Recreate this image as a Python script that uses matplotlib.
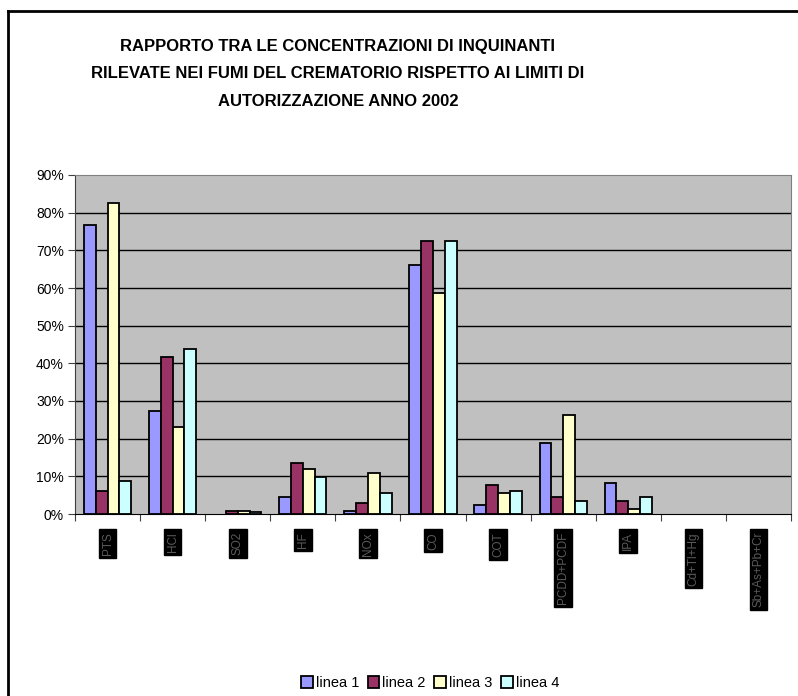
import matplotlib
matplotlib.use("Agg")
import matplotlib.pyplot as plt
import numpy as np
from matplotlib.lines import Line2D

plt.rcParams["font.family"] = ["Liberation Sans", "DejaVu Sans"]

# category labels are unreadable in the source; plausible pollutant names
categories = ["PTS", "HCl", "SO2", "HF", "NOx", "CO", "COT", "PCDD+PCDF",
              "IPA", "Cd+Tl+Hg", "Sb+As+Pb+Cr"]
series_names = ["linea 1", "linea 2", "linea 3", "linea 4"]
linea_1 = [76.7, 27.4, 0.0, 4.6, 0.9, 66.1, 2.4, 18.8, 8.3, 0.0, 0.0]
linea_2 = [6.1, 41.8, 0.9, 13.6, 3.0, 72.6, 7.7, 4.6, 3.5, 0.0, 0.0]
linea_3 = [82.6, 23.2, 0.9, 11.9, 10.9, 58.8, 5.7, 26.3, 1.4, 0.0, 0.0]
linea_4 = [8.8, 43.9, 0.4, 9.9, 5.7, 72.6, 6.1, 3.5, 4.6, 0.0, 0.0]
colors = ["#9999FF", "#993366", "#FFFFCC", "#CCFFFF"]
y_ticks = [0, 10, 20, 30, 40, 50, 60, 70, 80, 90]

W, H = 798, 696
fig = plt.figure(figsize=(W / 100, H / 100), dpi=100)

# outer chart border (top and left visible)
fig.add_artist(Line2D([8 / W, 8 / W], [0, 1 - 11 / H], color="black", lw=2,
                      transform=fig.transFigure))
fig.add_artist(Line2D([8 / W, 1], [1 - 11 / H, 1 - 11 / H], color="black", lw=2,
                      transform=fig.transFigure))

title_lines = ["RAPPORTO TRA LE CONCENTRAZIONI DI INQUINANTI",
               "RILEVATE NEI FUMI DEL CREMATORIO RISPETTO AI LIMITI DI",
               "AUTORIZZAZIONE ANNO 2002"]
for line, ypix in zip(title_lines, [46, 74, 102]):
    fig.text(338 / W, 1 - ypix / H, line, ha="center", va="center",
             fontsize=12, fontweight="bold")

left, right, top, bottom = 75, 791, 175, 514
ax = fig.add_axes([left / W, 1 - bottom / H, (right - left) / W, (bottom - top) / H])
ax.set_facecolor("#C0C0C0")

x = np.arange(len(categories))
bw = 1 / 5.5
data = [linea_1, linea_2, linea_3, linea_4]
for i, (vals, c, name) in enumerate(zip(data, colors, series_names)):
    heights = [v if v > 0 else np.nan for v in vals]
    ax.bar(x + (i - 1.5) * bw, heights, width=bw, color=c, edgecolor="black",
           linewidth=1.3, label=name, zorder=3)

ax.set_xlim(-0.5, len(categories) - 0.5)
ax.set_ylim(0, 90)
ax.set_yticks(y_ticks)
ax.set_yticklabels([f"{v}%" for v in y_ticks], fontsize=10)
for v in y_ticks[1:-1]:
    ax.axhline(v, color="black", lw=1, zorder=1)

ax.set_xticks(np.arange(len(categories) + 1) - 0.5)
ax.set_xticklabels([])
ax.set_xticks(x, minor=True)
ax.set_xticklabels(categories, minor=True, rotation=90, fontsize=8.5,
                   color="#5a5a5a", va="top")
for lab in ax.get_xticklabels(minor=True):
    lab.set_bbox(dict(facecolor="black", edgecolor="black", pad=2))
ax.tick_params(axis="x", which="minor", length=0, pad=13)
ax.tick_params(axis="x", which="major", length=5, direction="out", color="#404040")
ax.tick_params(axis="y", length=5, direction="out", color="#404040", pad=3)

for s in ["top", "right"]:
    ax.spines[s].set_color("#808080")
ax.spines["left"].set_color("#404040")
ax.spines["bottom"].set_color("black")

handles, labels = ax.get_legend_handles_labels()
fig.legend(handles, labels, loc="center", bbox_to_anchor=(430 / W, 1 - 683 / H),
           ncol=4, frameon=False, fontsize=10.5, handlelength=0.8,
           handleheight=0.8, handletextpad=0.2, columnspacing=0.6)

fig.savefig("out.png", dpi=100)
